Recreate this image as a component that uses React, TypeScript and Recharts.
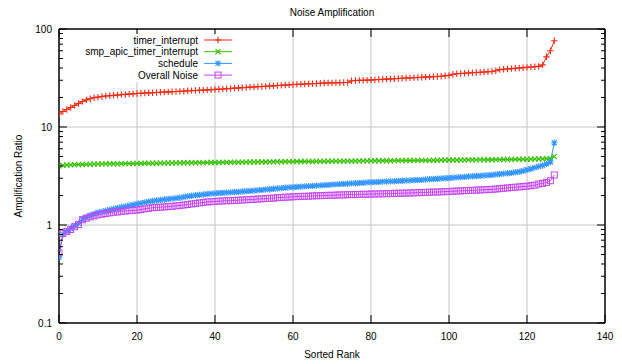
import { LineChart, Line, XAxis, YAxis, ReferenceLine, Legend } from "recharts";

const X_TICKS = [0, 20, 40, 60, 80, 100, 120, 140];
const Y_MAJOR = [0.1, 1, 10, 100];
const Y_TICKS = [
  0.1, 0.2, 0.3, 0.4, 0.5, 0.6, 0.7, 0.8, 0.9,
  1, 2, 3, 4, 5, 6, 7, 8, 9,
  10, 20, 30, 40, 50, 60, 70, 80, 90, 100,
];
const GRID_X = [20, 40, 60, 80, 100, 120];
const GRID_Y = [1, 10];

// values by sorted rank (index = rank)
const TIMER_INTERRUPT = [
  13.6, 14.4, 15.1, 15.8, 16.6, 17.4, 18.2, 18.9, 19.4, 19.9, 20.2, 20.5, 20.7, 20.9, 21.0, 21.2, 21.4, 21.5, 21.7, 21.8,
  22.0, 22.1, 22.2, 22.3, 22.4, 22.5, 22.6, 22.7, 22.8, 22.9, 23.0, 23.1, 23.2, 23.4, 23.5, 23.6, 23.7, 23.8, 23.9, 24.0,
  24.2, 24.3, 24.4, 24.6, 24.7, 24.9, 25.0, 25.2, 25.3, 25.5, 25.6, 25.8, 25.9, 26.0, 26.2, 26.3, 26.5, 26.6, 26.8, 26.9,
  27.1, 27.2, 27.3, 27.5, 27.6, 27.7, 27.8, 28.0, 28.1, 28.2, 28.2, 28.3, 28.3, 28.4, 28.5, 29.6, 29.8, 29.9, 30.0, 30.1,
  30.2, 30.4, 30.5, 30.7, 30.8, 31.0, 31.1, 31.3, 31.4, 31.6, 31.7, 31.9, 32.0, 32.2, 32.3, 32.5, 32.6, 32.8, 33.0, 33.3,
  33.6, 34.5, 35.0, 35.2, 35.4, 35.6, 35.8, 36.0, 36.2, 36.4, 36.6, 36.8, 37.5, 38.5, 38.8, 39.1, 39.4, 39.7, 40.0, 40.3,
  40.6, 40.9, 41.2, 41.6, 43, 52, 60, 76,
];
const SMP_APIC_TIMER_INTERRUPT = [
  4.02, 4.06, 4.09, 4.11, 4.13, 4.14, 4.15, 4.16, 4.17, 4.18, 4.19, 4.2, 4.2, 4.21, 4.22, 4.22, 4.23, 4.23, 4.24, 4.24,
  4.25, 4.25, 4.26, 4.26, 4.27, 4.27, 4.28, 4.28, 4.29, 4.29, 4.3, 4.3, 4.31, 4.31, 4.32, 4.32, 4.33, 4.33, 4.34, 4.34,
  4.35, 4.35, 4.36, 4.36, 4.36, 4.37, 4.37, 4.38, 4.38, 4.39, 4.39, 4.4, 4.4, 4.4, 4.41, 4.41, 4.42, 4.42, 4.43, 4.43,
  4.43, 4.44, 4.44, 4.45, 4.45, 4.45, 4.46, 4.46, 4.47, 4.47, 4.47, 4.48, 4.48, 4.49, 4.49, 4.49, 4.5, 4.5, 4.51, 4.51,
  4.51, 4.52, 4.52, 4.53, 4.53, 4.53, 4.54, 4.54, 4.55, 4.55, 4.55, 4.56, 4.56, 4.57, 4.57, 4.57, 4.58, 4.58, 4.59, 4.59,
  4.6, 4.6, 4.6, 4.61, 4.61, 4.62, 4.62, 4.62, 4.63, 4.63, 4.64, 4.64, 4.65, 4.65, 4.66, 4.66, 4.67, 4.67, 4.68, 4.68,
  4.69, 4.7, 4.71, 4.72, 4.73, 4.75, 4.78, 5.0,
];
const SCHEDULE = [
  0.47, 0.8, 0.86, 0.92, 0.98, 1.04, 1.15, 1.2, 1.25, 1.3, 1.34, 1.37, 1.4, 1.43, 1.46, 1.49, 1.52, 1.55, 1.58, 1.61,
  1.64, 1.67, 1.7, 1.73, 1.76, 1.78, 1.8, 1.82, 1.84, 1.86, 1.88, 1.9, 1.93, 1.96, 1.99, 2.01, 2.03, 2.05, 2.07, 2.09,
  2.1, 2.12, 2.13, 2.14, 2.15, 2.17, 2.18, 2.2, 2.21, 2.23, 2.24, 2.26, 2.28, 2.3, 2.32, 2.34, 2.36, 2.38, 2.4, 2.42,
  2.43, 2.45, 2.46, 2.48, 2.49, 2.51, 2.52, 2.54, 2.55, 2.57, 2.58, 2.6, 2.61, 2.63, 2.64, 2.66, 2.67, 2.69, 2.7, 2.72,
  2.73, 2.74, 2.75, 2.77, 2.78, 2.79, 2.8, 2.82, 2.83, 2.84, 2.85, 2.87, 2.88, 2.89, 2.91, 2.93, 2.95, 2.96, 2.98, 3.0,
  3.02, 3.04, 3.06, 3.08, 3.1, 3.12, 3.14, 3.16, 3.18, 3.2, 3.22, 3.25, 3.28, 3.31, 3.34, 3.37, 3.4, 3.45, 3.5, 3.58,
  3.66, 3.75, 3.85, 3.95, 4.05, 4.2, 4.4, 6.9,
];
const OVERALL_NOISE = [
  0.52, 0.82, 0.86, 0.9, 0.96, 1.01, 1.13, 1.17, 1.21, 1.24, 1.27, 1.29, 1.31, 1.33, 1.35, 1.36, 1.38, 1.39, 1.4, 1.41,
  1.42, 1.44, 1.46, 1.48, 1.5, 1.51, 1.52, 1.53, 1.54, 1.55, 1.57, 1.58, 1.6, 1.62, 1.64, 1.66, 1.68, 1.7, 1.72, 1.73,
  1.74, 1.75, 1.76, 1.77, 1.77, 1.78, 1.79, 1.8, 1.81, 1.82, 1.83, 1.84, 1.85, 1.86, 1.87, 1.88, 1.9, 1.91, 1.92, 1.93,
  1.94, 1.95, 1.96, 1.96, 1.97, 1.98, 1.99, 1.99, 2.0, 2.01, 2.01, 2.02, 2.03, 2.03, 2.04, 2.04, 2.05, 2.05, 2.06, 2.06,
  2.07, 2.07, 2.08, 2.08, 2.09, 2.09, 2.1, 2.11, 2.11, 2.12, 2.12, 2.13, 2.14, 2.14, 2.15, 2.16, 2.17, 2.17, 2.18, 2.19,
  2.2, 2.21, 2.22, 2.23, 2.24, 2.25, 2.26, 2.27, 2.28, 2.29, 2.3, 2.31, 2.33, 2.35, 2.37, 2.39, 2.41, 2.43, 2.45, 2.47,
  2.49, 2.52, 2.55, 2.62, 2.66, 2.72, 2.83, 3.24,
];

const RED = "#f42a12";
const GREEN = "#33c200";
const BLUE = "#3396ff";
const PURPLE = "#c545f2";
const FONT = "'Liberation Sans', Arial, Helvetica, sans-serif";
const FS = 10;

const dados = TIMER_INTERRUPT.map((v, i) => ({
  rank: i,
  timer: v,
  smp: SMP_APIC_TIMER_INTERRUPT[i],
  schedule: SCHEDULE[i],
  overall: OVERALL_NOISE[i],
}));

type Marca = "plus" | "cross" | "star" | "square";

function Marcador({ cx, cy, cor, tipo }: { cx: number; cy: number; cor: string; tipo: Marca }) {
  const s = 3.2;
  const plus = `M${cx - s},${cy}H${cx + s}M${cx},${cy - s}V${cy + s}`;
  const cross = `M${cx - s * 0.8},${cy - s * 0.8}L${cx + s * 0.8},${cy + s * 0.8}M${cx - s * 0.8},${cy + s * 0.8}L${cx + s * 0.8},${cy - s * 0.8}`;
  if (tipo === "square")
    return <rect x={cx - 3} y={cy - 3} width={6} height={6} fill="none" stroke={cor} strokeWidth={1} />;
  const d = tipo === "plus" ? plus : tipo === "cross" ? cross : plus + cross;
  return <path d={d} stroke={cor} strokeWidth={1.1} fill="none" />;
}

function dotDe(cor: string, tipo: Marca) {
  return (p: any) => {
    if (p.cx == null || p.cy == null) return <g key={`n-${p.index}`} />;
    return <Marcador key={`${tipo}-${p.index}`} cx={p.cx} cy={p.cy} cor={cor} tipo={tipo} />;
  };
}

function rotuloY(v: number) {
  return v < 1 ? String(v) : String(Math.round(v));
}

function TickEsquerda(props: any) {
  const { x, y, payload } = props;
  const major = Y_MAJOR.includes(payload.value);
  return (
    <g>
      <line x1={x} x2={x + (major ? 8 : 4)} y1={y} y2={y} stroke="#000" strokeWidth={1} />
      {major && (
        <text x={x - 7} y={y + 4} textAnchor="end" fontSize={FS} fontFamily={FONT} fill="#000">
          {rotuloY(payload.value)}
        </text>
      )}
    </g>
  );
}

function TickDireita(props: any) {
  const { x, y, payload } = props;
  const major = Y_MAJOR.includes(payload.value);
  return <line x1={x} x2={x - (major ? 8 : 4)} y1={y} y2={y} stroke="#000" strokeWidth={1} />;
}

function TickBaixo(props: any) {
  const { x, y, payload } = props;
  return (
    <g>
      <line x1={x} x2={x} y1={y} y2={y - 8} stroke="#000" strokeWidth={1} />
      <text x={x} y={y + 17} textAnchor="middle" fontSize={FS} fontFamily={FONT} fill="#000">
        {payload.value}
      </text>
    </g>
  );
}

function TickCima(props: any) {
  const { x, y } = props;
  return <line x1={x} x2={x} y1={y} y2={y + 8} stroke="#000" strokeWidth={1} />;
}

const SERIES: { nome: string; cor: string; tipo: Marca }[] = [
  { nome: "timer_interrupt", cor: RED, tipo: "plus" },
  { nome: "smp_apic_timer_interrupt", cor: GREEN, tipo: "cross" },
  { nome: "schedule", cor: BLUE, tipo: "star" },
  { nome: "Overall Noise", cor: PURPLE, tipo: "square" },
];

function Chave() {
  return (
    <svg width={172} height={48} style={{ display: "block" }}>
      {SERIES.map((s, i) => {
        const y = 6 + i * 11.7;
        return (
          <g key={s.nome}>
            <text x={134} y={y + 3.5} textAnchor="end" fontSize={FS} fontFamily={FONT} fill="#000">
              {s.nome}
            </text>
            <line x1={140} x2={168} y1={y} y2={y} stroke={s.cor} strokeWidth={1} />
            <Marcador cx={154} cy={y} cor={s.cor} tipo={s.tipo} />
          </g>
        );
      })}
    </svg>
  );
}

const texto = { position: "absolute" as const, fontFamily: FONT, fontSize: FS, color: "#000", whiteSpace: "nowrap" as const };

export default function App() {
  return (
    <div style={{ position: "absolute", left: 0, top: 0, width: 622, height: 364, background: "#fff" }}>
      <LineChart width={622} height={364} data={dados} margin={{ top: 0, right: 0, bottom: 0, left: 0 }}>
        <XAxis
          dataKey="rank"
          type="number"
          domain={[0, 140]}
          ticks={X_TICKS}
          interval={0}
          allowDataOverflow
          height={41}
          tickSize={0}
          tickMargin={0}
          tickLine={false}
          tick={<TickBaixo />}
          axisLine={{ stroke: "#000", strokeWidth: 1.5 }}
        />
        <XAxis
          xAxisId="top"
          orientation="top"
          dataKey="rank"
          type="number"
          domain={[0, 140]}
          ticks={X_TICKS}
          interval={0}
          allowDataOverflow
          height={29}
          tickSize={0}
          tickMargin={0}
          tickLine={false}
          tick={<TickCima />}
          axisLine={{ stroke: "#000", strokeWidth: 1.5 }}
        />
        <YAxis
          scale="log"
          type="number"
          domain={[0.1, 100]}
          ticks={Y_TICKS}
          interval={0}
          allowDataOverflow
          width={59}
          tickSize={0}
          tickMargin={0}
          tickLine={false}
          tick={<TickEsquerda />}
          axisLine={{ stroke: "#000", strokeWidth: 1.5 }}
        />
        <YAxis
          yAxisId="right"
          orientation="right"
          scale="log"
          type="number"
          domain={[0.1, 100]}
          ticks={Y_TICKS}
          interval={0}
          allowDataOverflow
          width={17}
          tickSize={0}
          tickMargin={0}
          tickLine={false}
          tick={<TickDireita />}
          axisLine={{ stroke: "#000", strokeWidth: 1.5 }}
        />
        {GRID_X.map((v) => (
          <ReferenceLine key={`gx-${v}`} x={v} stroke="#c4c4c4" strokeWidth={1} />
        ))}
        {GRID_Y.map((v) => (
          <ReferenceLine key={`gy-${v}`} y={v} stroke="#c4c4c4" strokeWidth={1} />
        ))}
        <Legend
          layout="vertical"
          align="center"
          verticalAlign="middle"
          content={() => <Chave />}
          wrapperStyle={{ left: 64, top: 34, width: 172, height: 48, background: "#fff" }}
        />
        <Line dataKey="timer" stroke={RED} strokeWidth={1} dot={dotDe(RED, "plus")} isAnimationActive={false} />
        <Line dataKey="smp" stroke={GREEN} strokeWidth={1} dot={dotDe(GREEN, "cross")} isAnimationActive={false} />
        <Line dataKey="schedule" stroke={BLUE} strokeWidth={1} dot={dotDe(BLUE, "star")} isAnimationActive={false} />
        <Line dataKey="overall" stroke={PURPLE} strokeWidth={1} dot={dotDe(PURPLE, "square")} isAnimationActive={false} />
      </LineChart>
      <div style={{ ...texto, left: 332, top: 12, transform: "translate(-50%, -50%)" }}>Noise Amplification</div>
      <div style={{ ...texto, left: 332, top: 354, transform: "translate(-50%, -50%)" }}>Sorted Rank</div>
      <div style={{ ...texto, left: 18, top: 176, transform: "translate(-50%, -50%) rotate(-90deg)" }}>
        Amplification Ratio
      </div>
    </div>
  );
}
